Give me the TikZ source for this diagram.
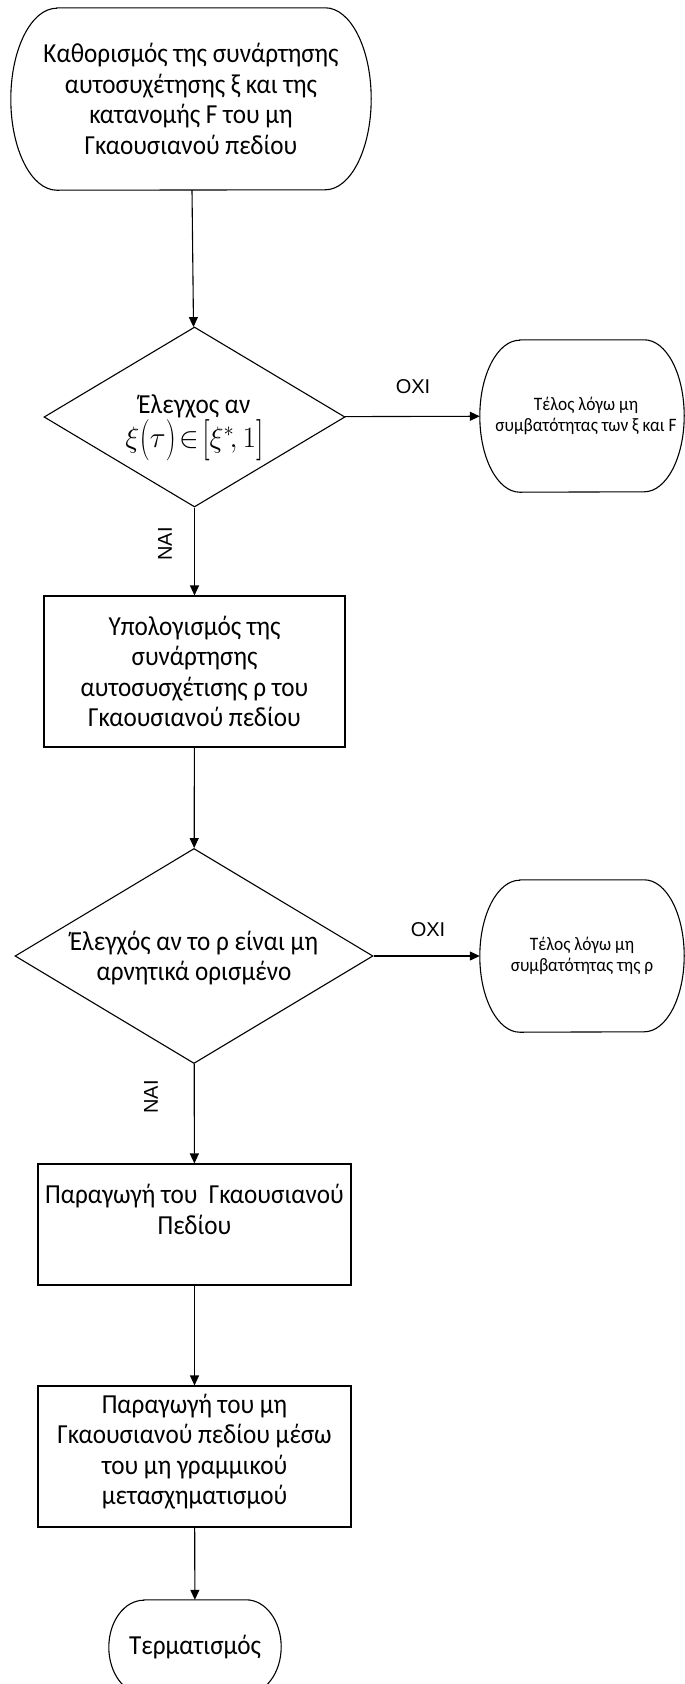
\documentclass[tikz,border=0pt]{standalone}
\usepackage{graphicx}
\usepackage{fontspec}
\setmainfont[FakeStretch=0.915]{Carlito}
\newfontfamily\labfont{Liberation Sans}
\usetikzlibrary{arrows.meta,shapes.geometric}
\newcommand{\tallbr}[1]{\vcenter{\hbox{\scalebox{1}[1.4]{$#1$}}}}
\tikzset{
  line/.style={draw=black, line width=1.1pt},
  arr/.style={line, -{Triangle[length=10pt,width=9pt]}},
  box/.style={line, rectangle, inner sep=0pt, align=center, font=\fontsize{27.5}{30.5}\selectfont},
  cond/.style={line, diamond, inner sep=0pt},
  termbox/.style={rectangle, inner sep=0pt, align=center, font=\fontsize{27.5}{30.5}\selectfont},
  smallterm/.style={rectangle, inner sep=0pt, align=center, font=\fontsize{19}{21}\selectfont},
  txt/.style={align=center, inner sep=0pt, font=\fontsize{27.5}{30.5}\selectfont},
  lab/.style={inner sep=0pt, font=\labfont\fontsize{20}{24}\selectfont},
}
\newcommand{\drawterm}[3]{%
  \draw[line] ([xshift=#2]#1.north west) -- ([xshift=-#2]#1.north east)
    arc[start angle=90,end angle=-90,x radius=#2,y radius=#3]
    -- ([xshift=#2]#1.south west)
    arc[start angle=270,end angle=90,x radius=#2,y radius=#3] -- cycle;}
\begin{document}
\begin{tikzpicture}[x=1pt,y=-1pt]
\useasboundingbox[fill=white] (0,0) rectangle (685,1684);

% start
\node[termbox, minimum width=360pt, minimum height=182pt] (start) at (191,99)
  {Καθορισμός της συνάρτησης\\αυτοσυχέτησης ξ και της\\κατανομής F του μη\\Γκαουσιανού πεδίου};
\drawterm{start}{46pt}{91pt}

% decision 1
\node[cond, minimum width=301pt, minimum height=180pt] (d1) at (194.5,417) {};
\node[txt, anchor=base] (d1t) at (194.5,413) {Έλεγχος αν};
\node[inner sep=0pt] (d1f) at (194.5,440) {\fontsize{20.74}{25}\selectfont\resizebox{138pt}{!}{$\xi\tallbr{(}\tau\tallbr{)}\!\in\!\tallbr{[}\xi^{*}\!,1\tallbr{]}$}};

% terminal 1
\node[smallterm, minimum width=204pt, minimum height=152pt] (t1) at (582,416)
  {\hspace*{8pt}Τέλος λόγω μη\\\hspace*{8pt}συμβατότητας των ξ και F};
\drawterm{t1}{40pt}{76pt}

% rect 1
\node[box, minimum width=301pt, minimum height=151pt] (r1) at (194.5,671.5)
  {Υπολογισμός της\\συνάρτησης\\αυτοσυσχέτισης ρ του\\Γκαουσιανού πεδίου};

% decision 2
\node[cond, minimum width=358pt, minimum height=215pt] (d2) at (194,956) {};
\node[txt] (d2t) at (194,958) {Έλεγχός αν το ρ είναι μη\\αρνητικά ορισμένο};

% terminal 2
\node[smallterm, minimum width=204pt, minimum height=152pt] (t2) at (582,956)
  {Τέλος λόγω μη\\συμβατότητας της ρ};
\drawterm{t2}{40pt}{76pt}

% rect 2
\node[box, minimum width=313pt, minimum height=121pt] (r2) at (194.5,1224.5)
  {Παραγωγή του \ Γκαουσιανού\\Πεδίου\\\mbox{}};

% rect 3
\node[box, minimum width=313pt, minimum height=141pt] (r3) at (194.5,1456.5)
  {Παραγωγή του μη\\Γκαουσιανού πεδίου μέσω\\του μη γραμμικού\\μετασχηματισμού\\[-16pt]\mbox{}};

% end
\node[termbox, minimum width=172pt, minimum height=94pt] (end) at (195,1647) {Τερματισμός};
\drawterm{end}{35pt}{47pt}

% connectors
\draw[arr] (start) -- (d1);
\draw[arr] (d1) -- (t1);
\draw[arr] (d1) -- (r1);
\draw[arr] (r1) -- (d2);
\draw[arr] (d2) -- (t2);
\draw[arr] (d2) -- (r2);
\draw[arr] (r2) -- (r3);
\draw[arr] (r3) -- (end);

% labels
\node[lab] (oxi1) at (413,387) {ΟΧΙ};
\node[lab, rotate=90] (nai1) at (165,544) {ΝΑΙ};
\node[lab] (oxi2) at (428,930) {ΟΧΙ};
\node[lab, rotate=90] (nai2) at (151,1097) {ΝΑΙ};
\end{tikzpicture}
\end{document}
